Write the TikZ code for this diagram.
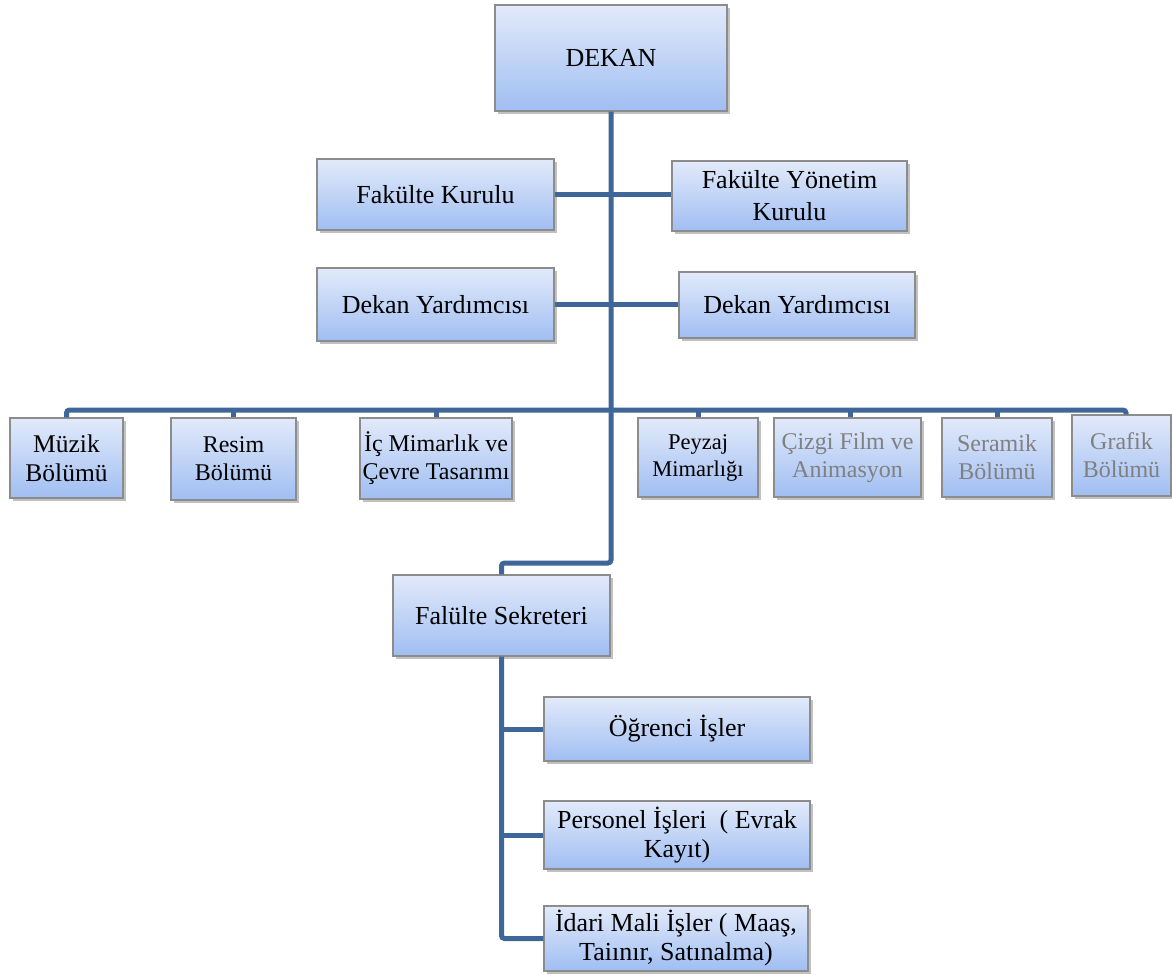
\documentclass[tikz,border=0pt]{standalone}
\usepackage{fontspec}
\setmainfont{Liberation Serif}
\usetikzlibrary{shadows}
\definecolor{boxtop}{RGB}{226,234,250}
\definecolor{boxbot}{RGB}{160,190,242}
\definecolor{boxline}{RGB}{140,140,140}
\definecolor{conncol}{RGB}{63,102,152}
\definecolor{greytext}{RGB}{128,128,128}
\tikzset{
  box/.style={rectangle, draw=boxline, line width=1.2pt, top color=boxtop, bottom color=boxbot,
    inner sep=0pt, align=center, text=black,
    drop shadow={shadow xshift=2.5pt, shadow yshift=-3pt, opacity=0.35, fill=black!70},
    font=\fontsize{26}{30}\selectfont},
  dept/.style={box, font=\fontsize{24}{28}\selectfont},
  faded/.style={text=greytext},
  conn/.style={draw=conncol, line width=5pt},
  connbend/.style={conn, rounded corners=3pt}
}
\begin{document}
\begin{tikzpicture}[x=1pt,y=-1pt]
\useasboundingbox (0,0) rectangle (1172,974);
% top
\node[box, minimum width=232, minimum height=106] (dekan) at (611,58) {DEKAN};
\node[box, minimum width=237, minimum height=71] (fk) at (435.5,194.5) {Fakülte Kurulu};
\node[box, minimum width=235, minimum height=70, font=\fontsize{26}{32}\selectfont] (fyk) at (789.5,196) {Fakülte Yönetim\\Kurulu};
\node[box, minimum width=237, minimum height=73] (dy1) at (435.5,304.5) {Dekan Yardımcısı};
\node[box, minimum width=236, minimum height=66] (dy2) at (797,305) {Dekan Yardımcısı};
% departments
\node[dept, minimum width=113, minimum height=80, font=\fontsize{25.5}{29}\selectfont] (muzik) at (66.5,458) {Müzik\\Bölümü};
\node[dept, minimum width=125, minimum height=82] (resim) at (233.5,459) {Resim\\Bölümü};
\node[dept, minimum width=152, minimum height=81] (ic) at (436,458.5) {İç Mimarlık ve\\Çevre Tasarımı};
\node[dept, minimum width=120, minimum height=79, font=\fontsize{22.5}{27}\selectfont] (peyzaj) at (698,457.5) {Peyzaj\\Mimarlığı};
\node[dept, faded, minimum width=147, minimum height=79] (cizgi) at (847.5,457.5) {Çizgi Film ve\\Animasyon};
\node[dept, faded, minimum width=110, minimum height=79] (seramik) at (997,457.5) {Seramik\\Bölümü};
\node[dept, faded, minimum width=99, minimum height=81] (grafik) at (1121.5,455.5) {Grafik\\Bölümü};
% secretary
\node[box, minimum width=217, minimum height=81] (sek) at (501.5,615.5) {Falülte Sekreteri};
\node[box, minimum width=266, minimum height=64] (ogr) at (677,729) {Öğrenci İşler};
\node[box, minimum width=266, minimum height=68, font=\fontsize{26}{29}\selectfont] (per) at (677,835) {Personel İşleri~~( Evrak\\Kayıt)};
\node[box, minimum width=264, minimum height=65, font=\fontsize{26}{29}\selectfont] (idari) at (676,938.5) {İdari Mali İşler ( Maaş,\\Taiınır, Satınalma)};
% connectors
\coordinate (bus) at (611,410);
\coordinate (turn) at (611,563);
\draw[connbend] (dekan.south) -- (turn) -| (sek.north);
\draw[conn] (fk.east) -- (fk.east -| fyk.west);
\draw[conn] (dy1.east) -- (dy1.east -| dy2.west);
\draw[connbend] (muzik.north) |- (bus) -| ([xshift=4.5]grafik.north);
\draw[conn] (resim.north) -- (resim.north |- bus);
\draw[conn] (ic.north) -- (ic.north |- bus);
\draw[conn] (peyzaj.north) -- (peyzaj.north |- bus);
\draw[conn] ([xshift=2.5]cizgi.north) -- ([xshift=2.5]cizgi.north |- bus);
\draw[conn] (seramik.north) -- (seramik.north |- bus);
\draw[connbend] (sek.south) |- (idari.west);
\draw[conn] (ogr.west) -- (ogr.west -| sek.south);
\draw[conn] (per.west) -- (per.west -| sek.south);
\end{tikzpicture}
\end{document}
